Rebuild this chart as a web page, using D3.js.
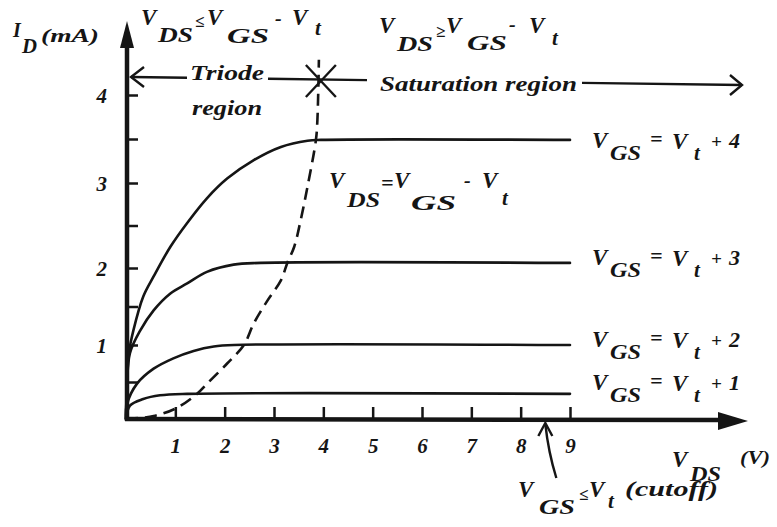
<!DOCTYPE html>
<html>
<head>
<meta charset="utf-8">
<script src="https://cdn.jsdelivr.net/npm/d3@7"></script>
<style>
  html, body { margin: 0; padding: 0; background: #fff; }
  svg { display: block; }
</style>
</head>
<body>
<svg id="chart" width="777" height="527"></svg>
<script>
// MOSFET output characteristics: I_D (mA) against V_DS (V) for four gate overdrives.

// ---- data -------------------------------------------------------------
const vdsTicks = [1, 2, 3, 4, 5, 6, 7, 8, 9];           // V_DS tick values (V)
const idTicks = [0.5, 1, 1.5, 2, 2.5, 3, 3.5, 4];       // I_D tick marks (mA)
const overdrive = [1, 2, 3, 4];                          // V_GS - V_t of each curve

// [V_DS, I_D] samples of each characteristic
const curveOv1 = [[0, 0], [0.08, 0.18], [0.35, 0.27], [0.69, 0.32], [1.24, 0.34], [9, 0.34]];
const curveOv2 = [[0, 0], [0.02, 0.2], [0.22, 0.475], [0.56, 0.68], [0.96, 0.82], [1.37, 0.92],
                  [1.78, 0.98], [2.19, 1.0], [9, 1.0]];
const curveOv3 = [[0, 0], [0.02, 0.45], [0.08, 0.89], [0.29, 1.19], [0.56, 1.45], [0.90, 1.67],
                  [1.24, 1.80], [1.64, 1.95], [2.18, 2.04], [2.73, 2.06], [9, 2.06]];
const curveOv4 = [[0, 0], [0.02, 0.5], [0.06, 0.9], [0.15, 1.19], [0.35, 1.63], [0.56, 1.89],
                  [0.90, 2.25], [1.24, 2.53], [1.64, 2.82], [2.05, 3.05], [2.59, 3.26],
                  [3.14, 3.41], [3.68, 3.48], [3.95, 3.49], [9, 3.49]];

// Triode / saturation boundary, V_DS = V_GS - V_t
const edgeCurve = [[0, 0], [0.56, 0.04], [1.03, 0.15], [1.44, 0.34], [1.64, 0.475], [2.05, 0.75],
                   [2.39, 1.0], [2.59, 1.28], [2.87, 1.58], [3.14, 1.84], [3.27, 2.06],
                   [3.41, 2.25], [3.54, 2.56], [3.68, 2.96], [3.85, 3.49], [3.88, 3.72], [3.91, 4.4]];

const boundaryVds = 3.95;   // where the region marker crosses the boundary
const cutoffVds = 8.5;      // where the cutoff arrow points on the V_DS axis

// ---- scales -----------------------------------------------------------
const x = d3.scaleLinear().domain([0, 9]).range([126, 570]);
const y = d3.scaleLinear().domain([0, 1, 2, 3, 4]).range([419, 345, 268, 183, 95]);

const svg = d3.select("#chart");
const ink = "#151515";
const face = "Liberation Serif";

function textStyle(sel, size) {
  sel.attr("font-family", face)
     .style("font-family", `"${face}"`)
     .style("font-style", "italic")
     .style("font-size", size + "px")
     .style("font-weight", "bold")
     .attr("fill", ink);
}

// ---- axes -------------------------------------------------------------
const xAxis = d3.axisBottom(x).tickValues(vdsTicks).tickSizeInner(-12).tickSizeOuter(0).tickPadding(0);
const gx = svg.append("g").attr("transform", `translate(0,${y(0)})`).call(xAxis);
gx.attr("font-family", face);
gx.select(".domain").remove();
gx.selectAll(".tick line").attr("stroke", ink).attr("stroke-width", 2.5);
gx.selectAll(".tick text").attr("y", 34).attr("dy", null).call(textStyle, 21);

const yAxis = d3.axisLeft(y).tickValues(idTicks).tickSizeInner(-11).tickSizeOuter(0).tickPadding(20)
  .tickFormat(d => Number.isInteger(d) ? d : "");
const gy = svg.append("g").attr("transform", `translate(${x(0) + 1},0)`).call(yAxis);
gy.attr("font-family", face);
gy.select(".domain").remove();
gy.selectAll(".tick line").attr("stroke", ink).attr("stroke-width", 2.5);
gy.selectAll(".tick text").attr("dy", "0.34em").call(textStyle, 21);

// axis lines with filled arrowheads
const ax0 = x(0) + 1, ay0 = y(0);
svg.append("line").attr("x1", ax0).attr("y1", ay0 + 2).attr("x2", ax0).attr("y2", 40)
  .attr("stroke", ink).attr("stroke-width", 4.5);
svg.append("path").attr("d", `M${ax0},21 L${ax0 - 7},48 L${ax0 + 7},48 Z`).attr("fill", ink);
svg.append("line").attr("x1", ax0 - 2).attr("y1", ay0).attr("x2", 725).attr("y2", ay0 + 1)
  .attr("stroke", ink).attr("stroke-width", 4.5);
svg.append("path").attr("d", `M748,${ay0 + 2} L718,${ay0 - 7} L718,${ay0 + 11} Z`).attr("fill", ink);

// ---- characteristic curves -------------------------------------------
const line = d3.line().x(d => x(d[0])).y(d => y(d[1])).curve(d3.curveCatmullRom.alpha(0.5));
const curves = [curveOv1, curveOv2, curveOv3, curveOv4];

svg.append("g").selectAll("path").data(curves).join("path")
  .attr("d", line)
  .attr("fill", "none").attr("stroke", ink).attr("stroke-width", 2.6)
  .attr("stroke-linecap", "round");

svg.append("path").datum(edgeCurve)
  .attr("d", line)
  .attr("fill", "none").attr("stroke", ink).attr("stroke-width", 2.6)
  .attr("stroke-dasharray", "12,7");

// ---- text helpers -----------------------------------------------------
function piece(g, t, px, py, size, w) {
  const el = g.append("text").attr("x", px).attr("y", py).text(t).call(textStyle, size);
  if (w) el.attr("textLength", w).attr("lengthAdjust", "spacingAndGlyphs");
  return el;
}
const labels = svg.append("g");

// axis titles
piece(labels, "I", 13, 37, 20);
piece(labels, "D", 22, 53, 20, 15);
piece(labels, "(mA)", 41, 42, 19, 58);

piece(labels, "V", 672, 467, 23);
piece(labels, "DS", 690, 481, 21, 31);
piece(labels, "(V)", 740, 464, 18, 30);

// region conditions
piece(labels, "V", 141, 25, 23);
piece(labels, "DS", 158, 42, 21, 35);
piece(labels, "\u2264", 195, 27, 17);
piece(labels, "V", 207, 25, 23);
piece(labels, "GS", 227, 43, 21, 42);
piece(labels, "-", 275, 25, 20);
piece(labels, "V", 292, 25, 23);
piece(labels, "t", 315, 35, 21);

piece(labels, "V", 379, 33, 23);
piece(labels, "DS", 397, 51, 21, 36);
piece(labels, "\u2265", 436, 37, 17);
piece(labels, "V", 446, 33, 23);
piece(labels, "GS", 467, 50, 21, 40);
piece(labels, "-", 509, 31, 20);
piece(labels, "V", 529, 33, 23);
piece(labels, "t", 552, 45, 21);

// boundary formula
piece(labels, "V", 329, 188, 23);
piece(labels, "DS", 347, 207, 21, 33);
piece(labels, "=", 381, 190, 22);
piece(labels, "V", 394, 188, 23);
piece(labels, "GS", 411, 210, 21, 45);
piece(labels, "-", 464, 187, 20);
piece(labels, "V", 482, 188, 23);
piece(labels, "t", 502, 205, 21);

// curve labels, bottom curve first
const curveBaselines = [390, 347, 265, 148];
overdrive.forEach((ov, i) => {
  const b = curveBaselines[i];
  piece(labels, "V", 592, b, 23);
  piece(labels, "GS", 610, b + 12, 21, 31);
  piece(labels, "=", 650, b - 2, 22);
  piece(labels, "V", 672, b + 1, 23);
  piece(labels, "t", 694, b + 12, 21);
  piece(labels, "+", 711, b, 19);
  piece(labels, String(ov), 729, b, 22);
});

// cutoff note
piece(labels, "V", 518, 497, 23);
piece(labels, "GS", 539, 514, 21, 36);
piece(labels, "\u2264", 579, 500, 17);
piece(labels, "V", 589, 497, 23);
piece(labels, "t", 608, 508, 21);
piece(labels, "(cutoff)", 625, 496, 20, 93);

const tip = x(cutoffVds);
svg.append("path")
  .attr("d", `M${tip + 11},478 Q${tip + 3},452 ${tip},424`)
  .attr("fill", "none").attr("stroke", ink).attr("stroke-width", 2.4);
svg.append("path")
  .attr("d", `M${tip - 7},436 L${tip},423 L${tip + 7},436`)
  .attr("fill", "none").attr("stroke", ink).attr("stroke-width", 2.4);

// ---- region marker row ------------------------------------------------
const rowY = px => 77 + (px - 131) * 8 / 611;
const row = svg.append("g").attr("stroke", ink).attr("stroke-width", 2.4).attr("fill", "none");
[[131, 187], [268, 367], [582, 742]].forEach(([a, b]) => {
  row.append("line").attr("x1", a).attr("y1", rowY(a)).attr("x2", b).attr("y2", rowY(b));
});
row.append("path").attr("d", `M144,${rowY(131) - 10} L131,${rowY(131)} L144,${rowY(131) + 10}`);
row.append("path").attr("d", `M730,${rowY(742) - 10} L742,${rowY(742)} L730,${rowY(742) + 10}`);
const sx = x(boundaryVds), sy = 81;
row.append("line").attr("x1", sx - 15).attr("y1", sy - 16).attr("x2", sx + 15).attr("y2", sy + 16);
row.append("line").attr("x1", sx + 15).attr("y1", sy - 16).attr("x2", sx - 15).attr("y2", sy + 16);

piece(labels, "Triode", 190, 80, 21, 74);
piece(labels, "region", 192, 115, 21, 70);
piece(labels, "Saturation region", 380, 91, 21, 197);
</script>
</body>
</html>
